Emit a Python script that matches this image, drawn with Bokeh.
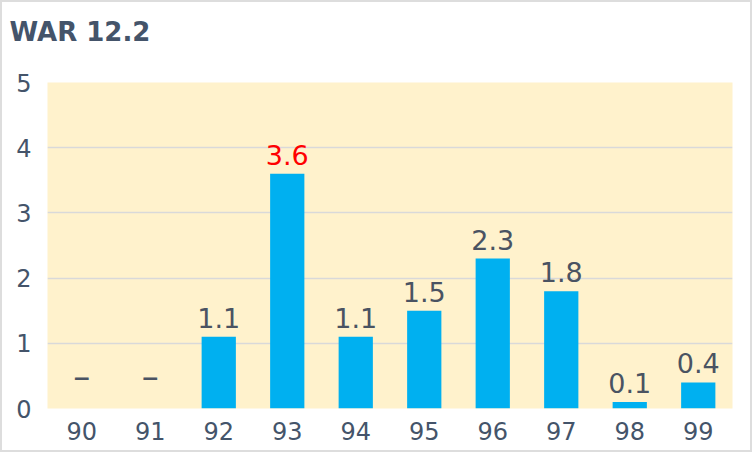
from bokeh.plotting import figure
from bokeh.models import ColumnDataSource, Title
from bokeh.embed import file_html
from bokeh.resources import INLINE
from bokeh.core.properties import value

title_text = "WAR 12.2"
seasons = ["90", "91", "92", "93", "94", "95", "96", "97", "98", "99"]
war = [0, 0, 1.1, 3.6, 1.1, 1.5, 2.3, 1.8, 0.1, 0.4]
y_ticks = [0, 1, 2, 3, 4, 5]

TEXT = "#44546A"
LABEL = "#4A5362"
FONT = "DejaVu Sans"

labels = [("%.1f" % v) if v > 0 else "" for v in war]
dashes = ["–" if v == 0 else "" for v in war]
vmax = max(war)
label_colors = ["#FF0000" if v == vmax else LABEL for v in war]

src = ColumnDataSource(dict(x=seasons, top=war, label=labels, dash=dashes, color=label_colors))

p = figure(x_range=seasons, y_range=(0, 5), width=748, height=448,
           output_backend="svg", toolbar_location=None, tools="",
           min_border_left=45, min_border_right=22, min_border_top=80, min_border_bottom=46)

p.background_fill_color = "#FFF2CC"
p.border_fill_color = "white"
p.outline_line_color = None

spacer = Title(text=" ", text_font_size="1px", standoff=33)
p.add_layout(spacer, "above")
t = Title(text=title_text, align="left", text_font=FONT, text_font_style="bold",
          text_font_size="26px", text_color=TEXT, offset=-38, standoff=0)
p.add_layout(t, "above")

p.vbar(x="x", top="top", width=0.5, source=src, fill_color="#00B0F0", line_color=None)

p.text(x="x", y="top", text="label", source=src, text_color="color",
       text_align="center", text_baseline="alphabetic", y_offset=-19,
       text_font=value(FONT), text_font_size="27px")
p.text(x="x", y="top", text="dash", source=src, text_color=LABEL,
       text_align="center", text_baseline="alphabetic", y_offset=-33,
       text_font=value(FONT), text_font_size="34px")

p.xgrid.grid_line_color = None
p.ygrid.grid_line_color = "#D9D9D9"
p.ygrid.grid_line_width = 1.5
p.ygrid.ticker = y_ticks
p.ygrid.level = "underlay"

for ax in (p.xaxis[0], p.yaxis[0]):
    ax.axis_line_color = None
    ax.major_tick_line_color = None
    ax.minor_tick_line_color = None
    ax.major_tick_out = 0
    ax.major_tick_in = 0
    ax.major_label_text_font = FONT
    ax.major_label_text_font_size = "24px"
    ax.major_label_text_color = TEXT

p.yaxis.ticker = y_ticks
p.yaxis.major_label_standoff = 16
p.xaxis.major_label_standoff = 13
p.styles = {"border": "2px solid #DDDDDD", "box-sizing": "content-box"}

open("out.html", "w").write(file_html(p, INLINE))
